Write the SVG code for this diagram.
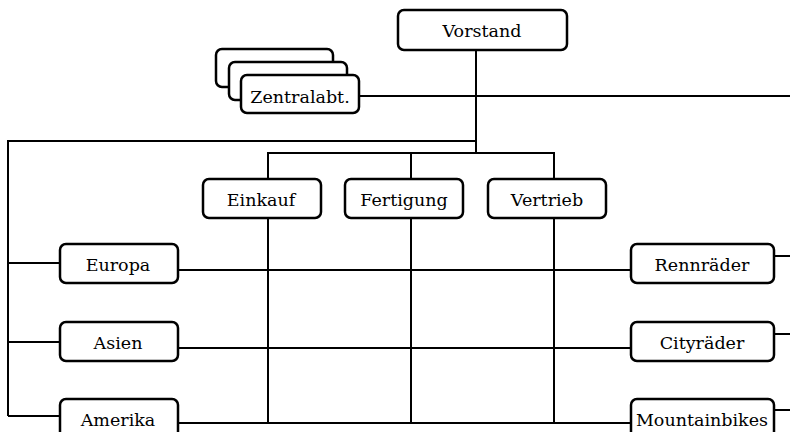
<svg xmlns="http://www.w3.org/2000/svg" width="790" height="432" viewBox="0 0 790 432">
<style>
.box{fill:#fff;stroke:#000;stroke-width:2.5}
.ln{fill:none;stroke:#000;stroke-width:2}
.t{font-family:'DejaVu Serif','Liberation Serif',serif;font-size:17.5px;fill:#000;text-anchor:middle}
</style>
<rect width="790" height="432" fill="#fff"/>
<g id="connectors" class="ln">
<path d="M476 50V153"/>
<path d="M359 96H790"/>
<path d="M476 141H8V416"/>
<path d="M8 263H60M8 342H60M8 416H60"/>
<path d="M268 179V153H554V179M411 153V179"/>
<path d="M268 218V423M411 218V423M554 218V423"/>
<path d="M178 270H631M178 348H631M178 423H631"/>
<path d="M774 256H790M774 334H790M774 410H790"/>
</g>
<g id="vorstand"><rect class="box" x="398" y="10" width="169" height="40" rx="6"/><text class="t" x="482" y="37">Vorstand</text></g>
<g id="zentralabt">
<rect class="box" x="216" y="49" width="117" height="38" rx="6"/>
<rect class="box" x="229" y="62" width="118" height="38" rx="6"/>
<rect class="box" x="241" y="75" width="118" height="38" rx="6"/>
<text class="t" x="300" y="103">Zentralabt.</text></g>
<g id="einkauf"><rect class="box" x="203" y="179" width="118" height="39" rx="6"/><text class="t" x="261" y="205.5">Einkauf</text></g>
<g id="fertigung"><rect class="box" x="345" y="179" width="118" height="39" rx="6"/><text class="t" x="404" y="205.5">Fertigung</text></g>
<g id="vertrieb"><rect class="box" x="488" y="179" width="118" height="39" rx="6"/><text class="t" x="547" y="205.5">Vertrieb</text></g>
<g id="europa"><rect class="box" x="60" y="244" width="118" height="39" rx="6"/><text class="t" x="118" y="270.5">Europa</text></g>
<g id="asien"><rect class="box" x="60" y="322" width="118" height="39" rx="6"/><text class="t" x="118" y="348.5">Asien</text></g>
<g id="amerika"><rect class="box" x="60" y="399" width="118" height="39" rx="6"/><text class="t" x="118" y="425.5">Amerika</text></g>
<g id="rennraeder"><rect class="box" x="631" y="244" width="143" height="39" rx="6"/><text class="t" x="702" y="270.5">Rennräder</text></g>
<g id="cityraeder"><rect class="box" x="631" y="322" width="143" height="39" rx="6"/><text class="t" x="702" y="348.5">Cityräder</text></g>
<g id="mountainbikes"><rect class="box" x="631" y="399" width="143" height="39" rx="6"/><text class="t" x="702" y="425.5">Mountainbikes</text></g>
</svg>
